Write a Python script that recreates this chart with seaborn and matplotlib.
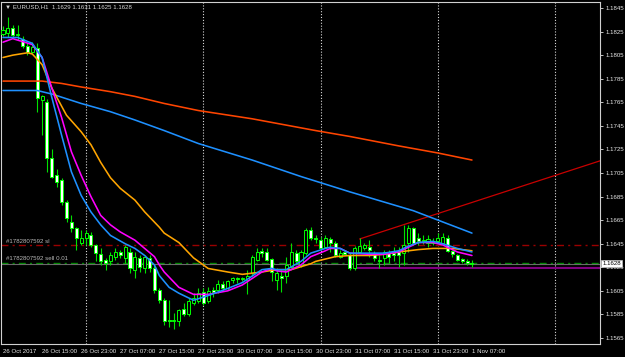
import numpy as np
import pandas as pd
import matplotlib
matplotlib.use("Agg")
import matplotlib.pyplot as plt
import matplotlib.transforms as mtransforms
from matplotlib import font_manager
import seaborn as sns

# ---------------- data ----------------
symbol = "EURUSD,H1"
opens = [1.1823, 1.1824, 1.1828, 1.1822, 1.1819, 1.1813, 1.1808, 1.1811, 1.1767, 1.1765,
         1.1718, 1.1703, 1.1699, 1.1680, 1.1663, 1.1658, 1.1646, 1.1650, 1.1652, 1.1644,
         1.1636, 1.1631, 1.1630, 1.1634, 1.1638, 1.1633, 1.1638, 1.1623, 1.1633, 1.1624,
         1.1633, 1.1624, 1.1606, 1.1597, 1.1580, 1.1579, 1.1579, 1.1590, 1.1585, 1.1595,
         1.1596, 1.1604, 1.1596, 1.1606, 1.1606, 1.1611, 1.1607, 1.1614, 1.1615, 1.1615,
         1.1614, 1.1620, 1.1631, 1.1639, 1.1638, 1.1632, 1.1614, 1.1618, 1.1618, 1.1625,
         1.1637, 1.1627, 1.1637, 1.1657, 1.1650, 1.1648, 1.1642, 1.1649, 1.1646, 1.1634,
         1.1638, 1.1635, 1.1624, 1.1638, 1.1641, 1.1642, 1.1637, 1.1631, 1.1633, 1.1637,
         1.1637, 1.1638, 1.1637, 1.1646, 1.1658, 1.1650, 1.1647, 1.1646, 1.1647, 1.1647,
         1.1646, 1.1650, 1.1639, 1.1635, 1.1632, 1.1630, 1.1629]
highs = [1.1830, 1.1837, 1.1831, 1.1831, 1.1821, 1.1815, 1.1816, 1.1815, 1.1771, 1.1768,
         1.1725, 1.1708, 1.1701, 1.1682, 1.1669, 1.1659, 1.1657, 1.1657, 1.1655, 1.1645,
         1.1641, 1.1633, 1.1638, 1.1641, 1.1640, 1.1644, 1.1641, 1.1638, 1.1635, 1.1635,
         1.1635, 1.1627, 1.1607, 1.1599, 1.1597, 1.1586, 1.1590, 1.1595, 1.1599, 1.1603,
         1.1607, 1.1607, 1.1608, 1.1608, 1.1614, 1.1613, 1.1614, 1.1617, 1.1617, 1.1617,
         1.1623, 1.1635, 1.1641, 1.1641, 1.1641, 1.1633, 1.1624, 1.1623, 1.1634, 1.1646,
         1.1640, 1.1640, 1.1658, 1.1659, 1.1652, 1.1651, 1.1652, 1.1651, 1.1647, 1.1640,
         1.1640, 1.1637, 1.1643, 1.1650, 1.1646, 1.1648, 1.1639, 1.1635, 1.1640, 1.1640,
         1.1642, 1.1642, 1.1661, 1.1661, 1.1659, 1.1654, 1.1652, 1.1652, 1.1650, 1.1654,
         1.1654, 1.1652, 1.1640, 1.1636, 1.1633, 1.1632, 1.1631]
lows = [1.1821, 1.1820, 1.1820, 1.1818, 1.1811, 1.1805, 1.1807, 1.1757, 1.1737, 1.1706,
        1.1701, 1.1693, 1.1678, 1.1663, 1.1655, 1.1640, 1.1644, 1.1644, 1.1642, 1.1630,
        1.1627, 1.1623, 1.1627, 1.1631, 1.1633, 1.1629, 1.1620, 1.1616, 1.1621, 1.1620,
        1.1621, 1.1603, 1.1595, 1.1576, 1.1574, 1.1573, 1.1575, 1.1584, 1.1584, 1.1593,
        1.1595, 1.1593, 1.1595, 1.1600, 1.1603, 1.1606, 1.1606, 1.1612, 1.1612, 1.1613,
        1.1602, 1.1618, 1.1630, 1.1634, 1.1630, 1.1613, 1.1606, 1.1604, 1.1612, 1.1624,
        1.1627, 1.1625, 1.1635, 1.1648, 1.1646, 1.1640, 1.1641, 1.1638, 1.1634, 1.1633,
        1.1635, 1.1623, 1.1623, 1.1637, 1.1640, 1.1634, 1.1630, 1.1624, 1.1627, 1.1629,
        1.1630, 1.1625, 1.1627, 1.1638, 1.1646, 1.1644, 1.1645, 1.1642, 1.1644, 1.1646,
        1.1645, 1.1638, 1.1634, 1.1630, 1.1629, 1.1627, 1.1625]
closes = [1.1826, 1.1828, 1.1822, 1.1823, 1.1813, 1.1808, 1.1812, 1.1769, 1.1770, 1.1718,
          1.1702, 1.1697, 1.1680, 1.1667, 1.1658, 1.1650, 1.1650, 1.1654, 1.1644, 1.1637,
          1.1630, 1.1629, 1.1635, 1.1638, 1.1635, 1.1642, 1.1624, 1.1634, 1.1625, 1.1634,
          1.1624, 1.1606, 1.1597, 1.1579, 1.1579, 1.1580, 1.1589, 1.1585, 1.1596, 1.1599,
          1.1603, 1.1595, 1.1605, 1.1604, 1.1611, 1.1607, 1.1613, 1.1616, 1.1616, 1.1616,
          1.1618, 1.1634, 1.1638, 1.1637, 1.1631, 1.1621, 1.1620, 1.1616, 1.1627, 1.1638,
          1.1630, 1.1638, 1.1657, 1.1650, 1.1649, 1.1641, 1.1650, 1.1646, 1.1635, 1.1637,
          1.1636, 1.1624, 1.1641, 1.1643, 1.1644, 1.1640, 1.1633, 1.1630, 1.1638, 1.1634,
          1.1635, 1.1635, 1.1644, 1.1658, 1.1646, 1.1647, 1.1648, 1.1649, 1.1646, 1.1650,
          1.1651, 1.1639, 1.1636, 1.1631, 1.1630, 1.1629, 1.1628]

# moving averages, sampled at bar indices
ma_fast_bars = [0, 3, 6, 8, 10, 12, 14, 16, 18, 20, 22, 25, 27, 29, 31, 32, 34, 36, 39, 42,
                46, 49, 53, 55, 56, 58, 61, 63, 66, 67, 69, 71, 75, 78, 81, 83, 85, 88, 90, 93, 96]
ma_fast_vals = [1.1820, 1.1820, 1.1815, 1.1803, 1.1769, 1.1737, 1.1706, 1.1686, 1.1672, 1.1661,
                1.1652, 1.1645, 1.1641, 1.1635, 1.1627, 1.1618, 1.1608, 1.1603, 1.1597, 1.1601,
                1.1607, 1.1612, 1.1623, 1.1624, 1.1623, 1.1623, 1.1630, 1.1637, 1.1641, 1.1642,
                1.1641, 1.1637, 1.1637, 1.1637, 1.1639, 1.1643, 1.1646, 1.1647, 1.1645, 1.1641, 1.1638]
ma_mag_bars = [0, 2, 6, 8, 10, 12, 14, 16, 18, 20, 22, 24, 27, 29, 31, 32, 33, 36, 39, 42,
               46, 49, 53, 55, 56, 58, 61, 63, 66, 67, 69, 71, 75, 78, 81, 83, 85, 88, 90, 93, 96]
ma_mag_vals = [1.1816, 1.1819, 1.1814, 1.1803, 1.1777, 1.1752, 1.1723, 1.1703, 1.1685, 1.1669,
               1.1661, 1.1655, 1.1648, 1.1641, 1.1634, 1.1627, 1.1621, 1.1608, 1.1602, 1.1602,
               1.1605, 1.1610, 1.1621, 1.1624, 1.1622, 1.1621, 1.1627, 1.1634, 1.1639, 1.1641,
               1.1641, 1.1637, 1.1636, 1.1636, 1.1638, 1.1642, 1.1646, 1.1646, 1.1644, 1.1638, 1.1635]
ma_orange_bars = [0, 2, 5, 6, 8, 10, 13, 16, 18, 20, 22, 24, 27, 29, 32, 33, 36, 39, 42, 46,
                  49, 53, 56, 59, 63, 64, 68, 71, 75, 78, 81, 85, 88, 92, 96]
ma_orange_vals = [1.1803, 1.1805, 1.1807, 1.1806, 1.1797, 1.1777, 1.1754, 1.1740, 1.1729, 1.1714,
                  1.1701, 1.1692, 1.1682, 1.1672, 1.1659, 1.1654, 1.1646, 1.1633, 1.1624, 1.1621,
                  1.1619, 1.1621, 1.1623, 1.1623, 1.1628, 1.1630, 1.1634, 1.1635, 1.1635, 1.1636,
                  1.1638, 1.1640, 1.1641, 1.1641, 1.1639]
ma_slow_red_bars = [0, 8, 12, 16, 22, 27, 33, 40, 51, 64, 71, 81, 89, 96]
ma_slow_red_vals = [1.1783, 1.1783, 1.1781, 1.1778, 1.1774, 1.1770, 1.1764, 1.1758, 1.1751,
                    1.1741, 1.1736, 1.1728, 1.1722, 1.1716]
ma_slow_blue_bars = [0, 7, 10, 16, 22, 27, 33, 40, 51, 61, 71, 84, 96]
ma_slow_blue_vals = [1.1775, 1.1775, 1.1772, 1.1764, 1.1757, 1.1750, 1.1741, 1.1730, 1.1716,
                     1.1702, 1.1689, 1.1673, 1.1654]

trend_bars = [73, 96]
trend_prices = [1.1649, 1.1680]
hline_start_bar = 72
hline_price = 1.1624
sl_price = 1.1644
sell_price = 1.1629
order_ticket = "#1782807592"
order_lots = "0.01"

price_ticks = [1.1565, 1.1585, 1.1605, 1.1625, 1.1645, 1.1665, 1.1685, 1.1705,
               1.1725, 1.1745, 1.1765, 1.1785, 1.1805, 1.1825, 1.1845]
time_labels = ["26 Oct 2017", "26 Oct 15:00", "26 Oct 23:00", "27 Oct 07:00", "27 Oct 15:00",
               "27 Oct 23:00", "30 Oct 07:00", "30 Oct 15:00", "30 Oct 23:00", "31 Oct 07:00",
               "31 Oct 15:00", "31 Oct 23:00", "1 Nov 07:00"]

# ---------------- time axis ----------------
hours = pd.date_range("2017-10-26 07:00", "2017-11-03 00:00", freq="h")
hours = hours[hours.dayofweek < 5]
label_times = [pd.Timestamp("2017-10-26 07:00")] + [
    pd.Timestamp(s + " 2017") for s in time_labels[1:]]
label_pos = [int(np.where(hours == t)[0][0]) for t in label_times]
day_change = [i for i in range(1, len(hours)) if hours[i].date() != hours[i - 1].date()]

# ---------------- figure ----------------
sns.set_theme(style="dark", rc={"axes.facecolor": "black", "figure.facecolor": "black",
                                "axes.grid": False})
names = {f.name for f in font_manager.fontManager.ttflist}
if "Liberation Sans Narrow" in names:
    plt.rcParams['font.family'] = ['Liberation Sans Narrow', 'DejaVu Sans']
    FS = 5.0
else:
    plt.rcParams['font.family'] = ['Liberation Sans', 'DejaVu Sans']
    FS = 4.4

W, H = 625, 357
fig = plt.figure(figsize=(W / 100, H / 100), dpi=100)
ax = fig.add_axes([1 / W, 1 - 344 / H, 599 / W, 342 / H])
ax.set_facecolor("black")
ax.set_xlim(-0.41, 122.21)
ax.set_ylim(1.15599, 1.18501)

# period separators
for d in day_change:
    ax.axvline(d, color="#d8d8d8", ls=(0, (1, 1.6)), lw=0.8, zorder=1)

# order levels
ax.axhline(sl_price, color="#9a0000", ls=(0, (5, 3, 1.5, 3)), lw=1.0, zorder=2)
ax.axhline(sell_price, color="#008a00", ls=(0, (5, 3, 1.5, 3)), lw=1.0, zorder=2)
ax.axhline(closes[-1], color="#6a6a6a", lw=0.8, zorder=2)
ax.hlines(hline_price, hline_start_bar, ax.get_xlim()[1], color="#800080", lw=1.5, zorder=2)

# trend line (ray)
slope = (trend_prices[1] - trend_prices[0]) / (trend_bars[1] - trend_bars[0])
x_end = ax.get_xlim()[1]
ax.plot([trend_bars[0], x_end], [trend_prices[0], trend_prices[0] + slope * (x_end - trend_bars[0])],
        color="#c80000", lw=0.9, zorder=2)

# candles
xs = np.arange(len(opens))
o = np.array(opens); c = np.array(closes); hi = np.array(highs); lo = np.array(lows)
ax.vlines(xs, lo, hi, color="#00e000", lw=0.8, zorder=3)
bull = c >= o
body_h = np.maximum(np.abs(c - o), 0.00003)
ax.bar(xs[bull], body_h[bull], bottom=np.minimum(o, c)[bull], width=0.62,
       color="black", edgecolor="#00ff00", linewidth=0.7, zorder=3)
ax.bar(xs[~bull], body_h[~bull], bottom=np.minimum(o, c)[~bull], width=0.62,
       color="white", edgecolor="#00ff00", linewidth=0.7, zorder=3)

# moving averages
ma_specs = [
    (ma_slow_red_bars, ma_slow_red_vals, "#ff4500"),
    (ma_slow_blue_bars, ma_slow_blue_vals, "#1e90ff"),
    (ma_orange_bars, ma_orange_vals, "#ffa500"),
    (ma_mag_bars, ma_mag_vals, "#ff00ff"),
    (ma_fast_bars, ma_fast_vals, "#1e90ff"),
]
for bars, vals, col in ma_specs:
    sns.lineplot(x=bars, y=vals, ax=ax, color=col, lw=1.15, zorder=4, legend=False)

# order labels
lab_kw = dict(xycoords=("axes fraction", "data"), textcoords="offset points",
              fontsize=FS, color="#b8b8b8", va="bottom", ha="left", zorder=6)
ax.annotate(f"{order_ticket} sl", xy=(0.008, sl_price), xytext=(0, 0.8), **lab_kw)
ax.annotate(f"{order_ticket} sell {order_lots}", xy=(0.008, sell_price), xytext=(0, 0.8), **lab_kw)

# axes styling
for sp in ax.spines.values():
    sp.set_color("#d0d0d0")
    sp.set_linewidth(0.8)
ax.yaxis.tick_right()
ax.set_yticks(price_ticks)
ax.set_yticklabels([f"{v:.4f}" for v in price_ticks])
ax.tick_params(axis="y", colors="#e0e0e0", labelcolor="#e8e8e8", length=2.5, width=0.6,
               pad=1.2, labelsize=FS, direction="out")
ax.set_xticks(label_pos)
ax.set_xticklabels(time_labels, ha="left")
ax.tick_params(axis="x", colors="#e0e0e0", labelcolor="#e8e8e8", length=2, width=0.6,
               pad=1.5, labelsize=FS, direction="out")
ax.set_xlabel(""); ax.set_ylabel("")

# current price box
trans = mtransforms.blended_transform_factory(ax.transAxes, ax.transData)
ax.text(1.004, closes[-1], f"{closes[-1]:.4f}", transform=trans, va="center", ha="left",
        fontsize=FS, color="black", zorder=10, clip_on=False,
        bbox=dict(boxstyle="square,pad=0.2", fc="white", ec="#c0c0c0", lw=0.5))

# header
fig.text(5 / W, 1 - 7 / H,
         f"\u25BC {symbol}  {opens[-1]:.4f} {highs[-1]:.4f} {lows[-1]:.4f} {closes[-1]:.4f}",
         color="#d8d8d8", fontsize=FS, va="center", ha="left")

fig.savefig("out.png", dpi=100, facecolor="black")
